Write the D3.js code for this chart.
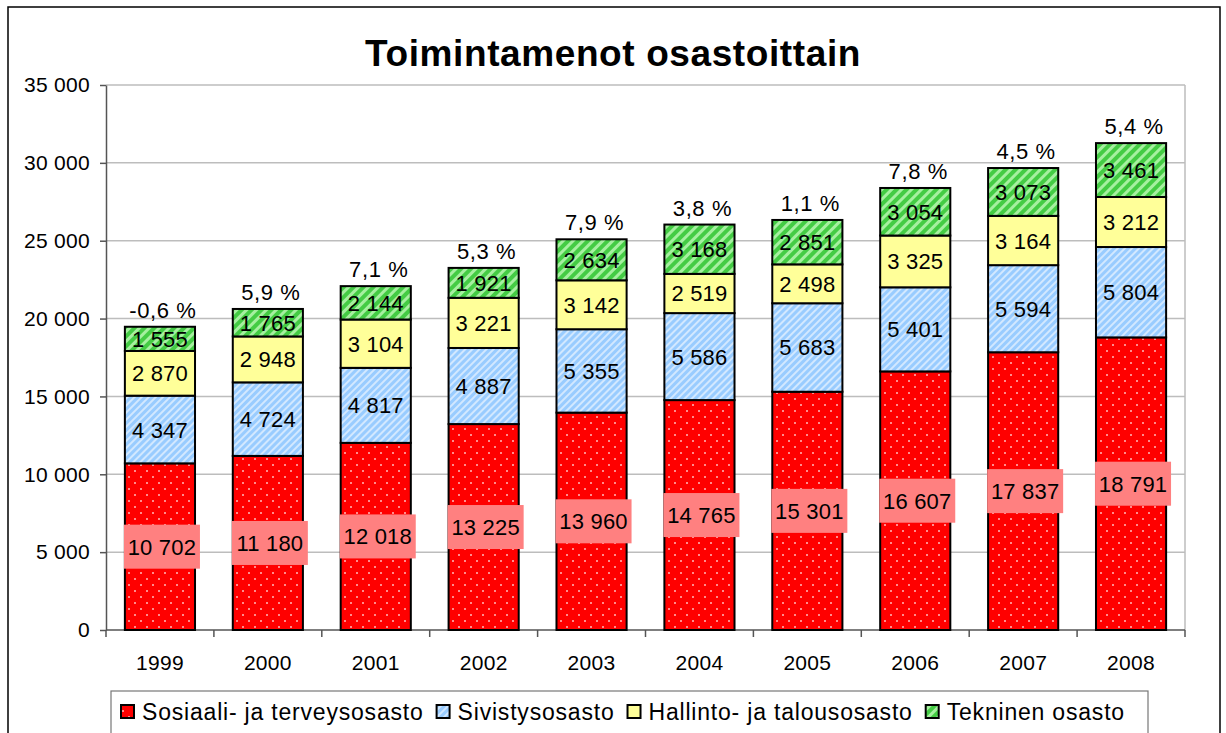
<!DOCTYPE html>
<html>
  <head>
    <meta charset="utf-8">
    <title>Toimintamenot osastoittain</title>
    <script src="https://cdnjs.cloudflare.com/ajax/libs/d3/7.8.5/d3.min.js"></script>
    <style>
      body { margin: 0; background: #fff; }
      text { font-family: "Liberation Sans", Arial, sans-serif; }
    </style>
  </head>
  <body>

    <svg class="chart" width="1226" height="733"></svg>

    <script>

      var years = ["1999", "2000", "2001", "2002", "2003", "2004", "2005", "2006", "2007", "2008"];
      var seriesNames = ["Sosiaali- ja terveysosasto", "Sivistysosasto", "Hallinto- ja talousosasto", "Tekninen osasto"];
      var sosiaali = [10702, 11180, 12018, 13225, 13960, 14765, 15301, 16607, 17837, 18791];
      var sivistys = [4347, 4724, 4817, 4887, 5355, 5586, 5683, 5401, 5594, 5804];
      var hallinto = [2870, 2948, 3104, 3221, 3142, 2519, 2498, 3325, 3164, 3212];
      var tekninen = [1555, 1765, 2144, 1921, 2634, 3168, 2851, 3054, 3073, 3461];
      var growth = ["-0,6 %", "5,9 %", "7,1 %", "5,3 %", "7,9 %", "3,8 %", "1,1 %", "7,8 %", "4,5 %", "5,4 %"];
      var yTicks = [0, 5000, 10000, 15000, 20000, 25000, 30000, 35000];

      var fills = ["url(#pRed)", "url(#pBlue)", "#FFFF99", "url(#pGreen)"];

      var rows = years.map(function(y, i) {
        return { year: y, s0: sosiaali[i], s1: sivistys[i], s2: hallinto[i], s3: tekninen[i] };
      });
      var stack = d3.stack().keys(["s0", "s1", "s2", "s3"]);
      var layers = stack(rows);

      var fmt = function(v) { return d3.format(",")(v).replace(/,/g, " "); };

      var svg = d3.select("svg.chart");

      // patterns
      var defs = svg.append("defs");
      var pr = defs.append("pattern").attr("id", "pRed").attr("patternUnits", "userSpaceOnUse")
        .attr("width", 12).attr("height", 12);
      pr.append("rect").attr("width", 12).attr("height", 12).attr("fill", "#FF0000");
      pr.append("rect").attr("x", 2).attr("y", 2).attr("width", 2).attr("height", 2).attr("fill", "#FF8C8C");
      pr.append("rect").attr("x", 8).attr("y", 8).attr("width", 2).attr("height", 2).attr("fill", "#FF8C8C");

      var pb = defs.append("pattern").attr("id", "pBlue").attr("patternUnits", "userSpaceOnUse")
        .attr("width", 5).attr("height", 5).attr("patternTransform", "rotate(45)");
      pb.append("rect").attr("width", 5).attr("height", 5).attr("fill", "#99CCFF");
      pb.append("rect").attr("width", 2).attr("height", 5).attr("fill", "#D2E8FF");

      var pg = defs.append("pattern").attr("id", "pGreen").attr("patternUnits", "userSpaceOnUse")
        .attr("width", 7).attr("height", 7).attr("patternTransform", "rotate(45)");
      pg.append("rect").attr("width", 7).attr("height", 7).attr("fill", "#44CC44");
      pg.append("rect").attr("width", 3).attr("height", 7).attr("fill", "#A6F0A0");

      // outer frame
      svg.append("rect").attr("x", 8).attr("y", 7).attr("width", 1212).attr("height", 760)
        .attr("fill", "none").attr("stroke", "#000").attr("stroke-width", 1.5);

      svg.append("text").attr("x", 613).attr("y", 66).attr("text-anchor", "middle")
        .attr("font-size", 37).attr("font-weight", "bold").attr("letter-spacing", 0.6)
        .text("Toimintamenot osastoittain");

      var x = d3.scaleBand().domain(years).range([106, 1185]).paddingInner(0.35).paddingOuter(0.175);
      var y = d3.scaleLinear().domain([0, 35000]).range([630, 85]);

      // gridlines
      svg.append("g").selectAll("line").data(yTicks.slice(1)).enter().append("line")
        .attr("x1", 106).attr("x2", 1185)
        .attr("y1", function(d) { return y(d); }).attr("y2", function(d) { return y(d); })
        .attr("stroke", "#BDBDBD").attr("stroke-width", 1.5);
      svg.append("line").attr("x1", 1185).attr("x2", 1185).attr("y1", 85).attr("y2", 630)
        .attr("stroke", "#BDBDBD").attr("stroke-width", 1.5);

      // y axis
      var yAxis = svg.append("g").attr("transform", "translate(106,0)")
        .call(d3.axisLeft(y).tickValues(yTicks).tickSize(6).tickSizeOuter(0).tickPadding(10)
          .tickFormat(fmt));
      yAxis.selectAll("text").attr("font-size", 21).attr("font-family", "Liberation Sans, Arial, sans-serif")
        .attr("fill", "#000").attr("letter-spacing", 0.3);
      yAxis.selectAll("line, path").attr("stroke", "#555").attr("stroke-width", 1.5);

      // x axis
      var xAxis = svg.append("g").attr("transform", "translate(0,630)");
      xAxis.append("line").attr("x1", 106).attr("x2", 1185).attr("stroke", "#555").attr("stroke-width", 1.5);
      xAxis.selectAll("line.tk").data(d3.range(years.length + 1)).enter().append("line")
        .attr("class", "tk")
        .attr("x1", function(i) { return 106 + i * x.step(); })
        .attr("x2", function(i) { return 106 + i * x.step(); })
        .attr("y1", 0).attr("y2", 7).attr("stroke", "#555").attr("stroke-width", 1.5);
      xAxis.selectAll("text").data(years).enter().append("text")
        .attr("x", function(d) { return x(d) + x.bandwidth() / 2; })
        .attr("y", 40).attr("text-anchor", "middle").attr("font-size", 21).attr("letter-spacing", 0.3)
        .text(function(d) { return d; });

      // bars
      var layerG = svg.append("g").selectAll("g").data(layers).enter().append("g")
        .attr("fill", function(d, i) { return fills[i]; });
      layerG.selectAll("rect").data(function(d) { return d; }).enter().append("rect")
        .attr("x", function(d) { return x(d.data.year); })
        .attr("width", x.bandwidth())
        .attr("y", function(d) { return y(d[1]); })
        .attr("height", function(d) { return y(d[0]) - y(d[1]); })
        .attr("stroke", "#000").attr("stroke-width", 2);

      // value labels
      layers.forEach(function(layer, li) {
        var g = svg.append("g");
        layer.forEach(function(d) {
          var cx = x(d.data.year) + x.bandwidth() / 2;
          var cy = y((d[0] + d[1]) / 2);
          var v = d[1] - d[0];
          if (li === 0) {
            g.append("rect").attr("x", cx - 36).attr("y", cy - 22).attr("width", 76).attr("height", 44)
              .attr("fill", "#FF8080");
          }
          g.append("text").attr("x", cx + (li === 0 ? 2 : 0)).attr("y", cy + 8)
            .attr("text-anchor", "middle").attr("font-size", 22).attr("letter-spacing", 0.2).text(fmt(v));
        });
      });

      // growth labels
      svg.append("g").selectAll("text").data(layers[3]).enter().append("text")
        .attr("x", function(d) { return x(d.data.year) + x.bandwidth() / 2 + 3; })
        .attr("y", function(d) { return y(d[1]) - 9; })
        .attr("text-anchor", "middle").attr("font-size", 22).attr("letter-spacing", 0.6)
        .text(function(d, i) { return growth[i]; });

      // legend
      var leg = svg.append("g");
      leg.append("rect").attr("x", 111).attr("y", 691).attr("width", 1037).attr("height", 60)
        .attr("fill", "#fff").attr("stroke", "#777").attr("stroke-width", 1.2);
      var lx = 121;
      seriesNames.forEach(function(name, i) {
        leg.append("rect").attr("x", lx).attr("y", 705).attr("width", 13).attr("height", 13)
          .attr("fill", fills[i]).attr("stroke", "#000").attr("stroke-width", 2);
        var t = leg.append("text").attr("x", lx + 21).attr("y", 720).attr("font-size", 23)
          .attr("letter-spacing", 0.8).text(name);
        lx += 21 + t.node().getComputedTextLength() + 13;
      });

    </script>
  </body>
</html>
